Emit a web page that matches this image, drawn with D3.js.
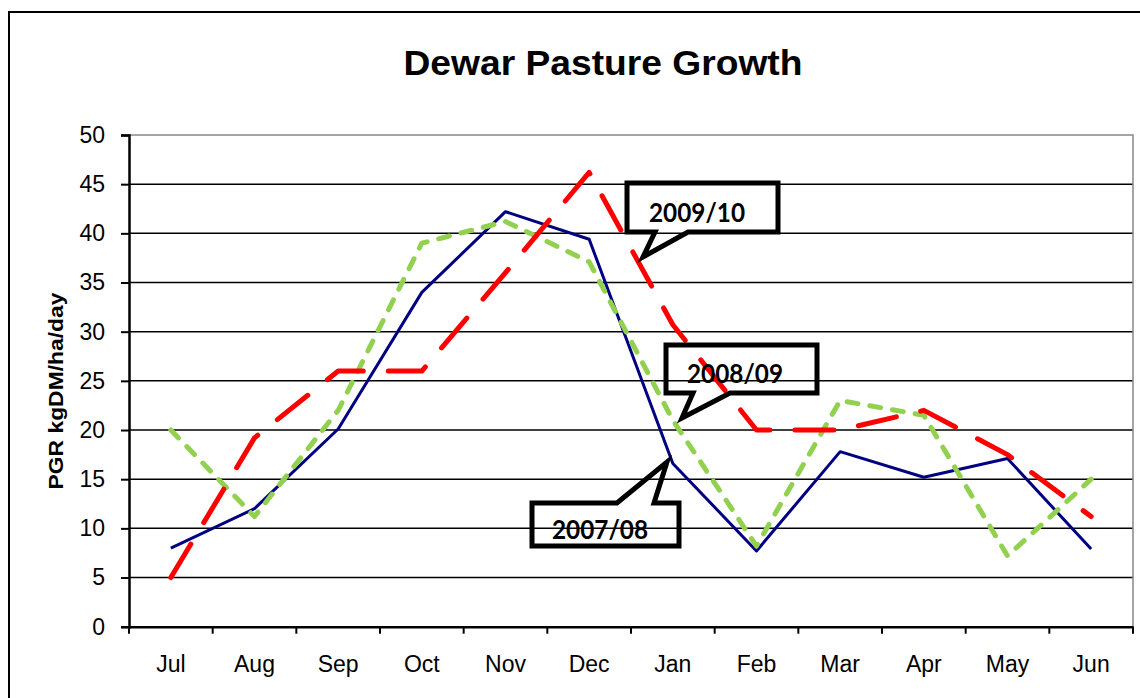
<!DOCTYPE html>
<html>
<head>
<meta charset="utf-8">
<style>
    body { margin: 0; background: #fff; }
    svg { display: block; }
    .tick text { fill: #000; }
</style>
</head>
<body>
<svg id="chart"></svg>
<script src="https://d3js.org/d3.v7.min.js"></script>
<script>
    // months of the season, July to June
    var months = ['Jul', 'Aug', 'Sep', 'Oct', 'Nov', 'Dec', 'Jan', 'Feb', 'Mar', 'Apr', 'May', 'Jun'];

    // pasture growth rate, kgDM/ha/day
    var growth0708 = [8, 12, 20.1, 34, 42.2, 39.4, 16.6, 7.7, 17.8, 15.2, 17.1, 7.9];
    var growth0809 = [20, 11.2, 22, 39, 41.2, 37.1, 21, 8.2, 23, 21.5, 7.2, 15];
    var growth0910 = [5, 19.2, 26, 26, 36, 46.2, 30.7, 20, 20, 22, 17.5, 11.2];

    var yTicks = [0, 5, 10, 15, 20, 25, 30, 35, 40, 45, 50];

    var width = 1140;
    var height = 698;

    // plot area edges
    var plotLeft = 129, plotRight = 1133, plotTop = 135, plotBottom = 626.7;

    var svg = d3.select('#chart')
        .attr('width', width)
        .attr('height', height);

    // outer chart frame
    svg.append('rect')
        .attr('x', 9).attr('y', 12)
        .attr('width', 1200).attr('height', 760)
        .attr('fill', 'none')
        .attr('stroke', '#000')
        .attr('stroke-width', 2);

    var x = d3.scaleBand().domain(months).range([plotLeft, plotRight]).padding(0);
    var y = d3.scaleLinear().domain([0, 50]).range([plotBottom, plotTop]);

    // title
    svg.append('text')
        .attr('x', 603).attr('y', 75)
        .attr('text-anchor', 'middle')
        .attr('font-family', 'Liberation Sans, Arial, sans-serif')
        .attr('font-weight', 'bold')
        .attr('font-size', 35)
        .attr('textLength', 399)
        .attr('lengthAdjust', 'spacingAndGlyphs')
        .text('Dewar Pasture Growth');

    // horizontal gridlines
    svg.append('g')
        .selectAll('line')
        .data(yTicks.filter(function (d) { return d > 0 && d < 50; }))
        .join('line')
        .attr('x1', plotLeft).attr('x2', plotRight)
        .attr('y1', function (d) { return y(d); })
        .attr('y2', function (d) { return y(d); })
        .attr('stroke', '#000')
        .attr('stroke-width', 1.5);

    // plot area border (top and right, grey)
    svg.append('path')
        .attr('d', 'M' + plotLeft + ',' + y(50) + 'H' + plotRight + 'V' + plotBottom)
        .attr('fill', 'none')
        .attr('stroke', '#888')
        .attr('stroke-width', 1.5);

    // y axis
    var yAxis = svg.append('g')
        .attr('transform', 'translate(' + plotLeft + ',0)')
        .call(d3.axisLeft(y).tickValues(yTicks).tickSize(8).tickPadding(16));
    yAxis.select('.domain').attr('stroke', '#000').attr('stroke-width', 2.5);
    yAxis.selectAll('.tick line').attr('stroke', '#000').attr('stroke-width', 2);
    yAxis.selectAll('.tick text')
        .attr('font-family', 'Liberation Sans, Arial, sans-serif')
        .attr('font-size', 23);

    // x axis: labels centred in bands, tick marks between categories
    var xAxis = svg.append('g')
        .attr('transform', 'translate(0,' + plotBottom + ')')
        .call(d3.axisBottom(x).tickSize(0).tickPadding(29));
    xAxis.select('.domain').attr('stroke', '#000').attr('stroke-width', 2.5);
    xAxis.selectAll('.tick text')
        .attr('font-family', 'Liberation Sans, Arial, sans-serif')
        .attr('font-size', 23);

    svg.append('g')
        .selectAll('line')
        .data(months.concat(['end']))
        .join('line')
        .attr('x1', function (d, i) { return plotLeft + i * x.step(); })
        .attr('x2', function (d, i) { return plotLeft + i * x.step(); })
        .attr('y1', plotBottom)
        .attr('y2', plotBottom + 7)
        .attr('stroke', '#000')
        .attr('stroke-width', 2);

    // y axis title
    svg.append('text')
        .attr('transform', 'translate(63,391) rotate(-90)')
        .attr('text-anchor', 'middle')
        .attr('font-family', 'Liberation Sans, Arial, sans-serif')
        .attr('font-weight', 'bold')
        .attr('font-size', 21)
        .attr('textLength', 197)
        .attr('lengthAdjust', 'spacingAndGlyphs')
        .text('PGR kgDM/ha/day');

    var line = d3.line()
        .x(function (d, i) { return x(months[i]) + x.bandwidth() / 2; })
        .y(function (d) { return y(d); });

    var series = [
        { name: '2007/08', values: growth0708, color: '#000080', width: 3, dash: null },
        { name: '2008/09', values: growth0809, color: '#92d050', width: 5, dash: '11,12' },
        { name: '2009/10', values: growth0910, color: '#ff0000', width: 5, dash: '39,25' }
    ];

    svg.append('g')
        .selectAll('path')
        .data(series)
        .join('path')
        .attr('d', function (d) { return line(d.values); })
        .attr('fill', 'none')
        .attr('stroke', function (d) { return d.color; })
        .attr('stroke-width', function (d) { return d.width; })
        .attr('stroke-dasharray', function (d) { return d.dash; })
        .attr('stroke-linecap', function (d) { return d.dash ? 'round' : 'butt'; })
        .attr('stroke-linejoin', 'round');

    // callout shapes (no fill, drawn over the chart)
    var callouts = [
        { label: '2009/10', d: 'M627,183H778V232H688L643,257L655,232H627Z', tx: 649, ty: 222 },
        { label: '2008/09', d: 'M666,345H817V393H730L682,418L693,393H666Z', tx: 687, ty: 383 },
        { label: '2007/08', d: 'M532,503H617L667,462L654,503H679V546H532Z', tx: 552, ty: 539 }
    ];

    var co = svg.append('g')
        .selectAll('g')
        .data(callouts)
        .join('g');

    co.append('path')
        .attr('d', function (d) { return d.d; })
        .attr('fill', 'none')
        .attr('stroke', '#000')
        .attr('stroke-width', 5)
        .attr('stroke-linejoin', 'miter');

    co.append('text')
        .attr('x', function (d) { return d.tx; })
        .attr('y', function (d) { return d.ty; })
        .attr('font-family', 'Lato, sans-serif')
        .attr('font-weight', 'bold')
        .attr('font-size', 26)
        .attr('textLength', 96)
        .attr('lengthAdjust', 'spacingAndGlyphs')
        .text(function (d) { return d.label; });
</script>
</body>
</html>
